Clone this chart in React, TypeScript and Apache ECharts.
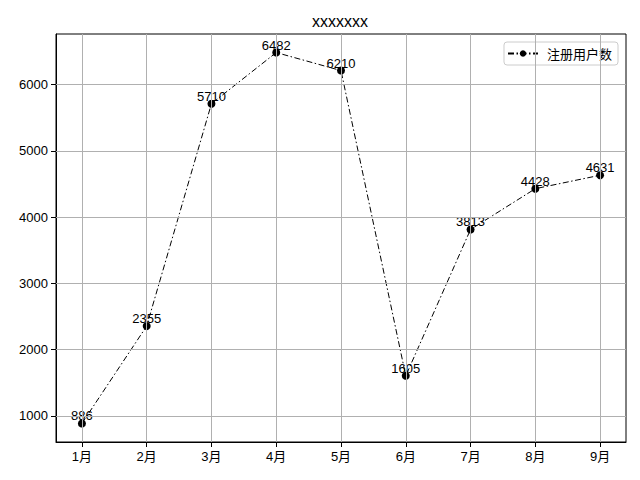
import React, { useEffect, useRef } from "react";
import * as echarts from "echarts";

const categories = ["1月", "2月", "3月", "4月", "5月", "6月", "7月", "8月", "9月"];
const users = [886, 2355, 5710, 6482, 6210, 1605, 3813, 4428, 4631];
const yTicks = [1000, 2000, 3000, 4000, 5000, 6000];
const xTicks = [0, 1, 2, 3, 4, 5, 6, 7, 8];
const titleText = "xxxxxxx";
const seriesName = "注册用户数";

const FONT = "'Liberation Sans', 'Noto Sans CJK SC', sans-serif";

export default function App() {
  const ref = useRef<HTMLDivElement>(null);
  useEffect(() => {
    document.body.style.margin = "0";
    if (!ref.current) return;
    const chart = echarts.init(ref.current, null, { renderer: "svg" });
    const grid = "#b0b0b0";
    chart.setOption({
      animation: false,
      backgroundColor: "#ffffff",
      textStyle: { fontFamily: FONT },
      title: {
        text: titleText,
        left: 312,
        top: 13,
        padding: 0,
        textStyle: { fontSize: 16, fontWeight: "normal", color: "#000", fontFamily: FONT },
      },
      legend: {
        right: 22,
        top: 42,
        data: [seriesName],
        itemWidth: 30,
        itemHeight: 8,
        padding: [5, 6, 5, 3],
        borderColor: "#cccccc",
        borderWidth: 1,
        borderRadius: 3,
        itemGap: 10,
        textStyle: { fontSize: 13, color: "#000", fontFamily: "'Noto Sans CJK SC', sans-serif", padding: [0, 0, 0, 4] },
      },
      grid: {
        left: 56,
        right: 14,
        top: 34,
        bottom: 38,
        show: true,
        borderColor: "#000",
        borderWidth: 1,
        outerBoundsMode: "none",
        containLabel: false,
      },
      xAxis: {
        type: "value",
        min: -0.4,
        max: 8.4,
        axisLine: { show: true, onZero: false, lineStyle: { color: "#000", width: 1 } },
        axisTick: { show: true, length: 5, customValues: xTicks, lineStyle: { color: "#000" } },
        axisLabel: {
          show: true,
          customValues: xTicks,
          formatter: (v: number) => categories[Math.round(v)] ?? "",
          color: "#000000",
          fontSize: 13,
          margin: 8,
          fontFamily: FONT,
        },
        splitLine: { show: false },
      },
      yAxis: {
        type: "value",
        min: 606.2,
        max: 6761.8,
        axisLine: { show: true, onZero: false, lineStyle: { color: "#000", width: 1 } },
        axisTick: { show: true, length: 5, customValues: yTicks, lineStyle: { color: "#000" } },
        axisLabel: {
          show: true,
          customValues: yTicks,
          formatter: (v: number) => String(v),
          color: "#000000",
          fontSize: 13,
          margin: 8,
          fontFamily: FONT,
        },
        splitLine: { show: false },
      },
      series: [
        {
          type: "line",
          name: "gridlines",
          z: 1,
          silent: true,
          symbol: "none",
          lineStyle: { opacity: 0 },
          data: [],
          markLine: {
            silent: true,
            symbol: ["none", "none"],
            label: { show: false },
            lineStyle: { color: grid, width: 1, type: "solid" },
            data: [
              ...yTicks.map((v) => ({ yAxis: v })),
              ...xTicks.map((v) => ({ xAxis: v })),
            ],
          },
        },
        {
          type: "line",
          name: seriesName,
          z: 3,
          data: users.map((v, i) => [i, v]),
          symbol: "circle",
          symbolSize: 8,
          itemStyle: { color: "#000" },
          lineStyle: { color: "#000", width: 1, type: [6, 2.5, 1.5, 2.5] },
          label: {
            show: true,
            position: "top",
            distance: -3,
            color: "#000000",
            textBorderWidth: 0,
            textBorderColor: "transparent",
            fontSize: 13,
            fontFamily: FONT,
            formatter: (p: any) => String(p.value[1]),
          },
        },
      ],
    });
    return () => chart.dispose();
  }, []);
  return <div ref={ref} style={{ width: 640, height: 480 }} />;
}
